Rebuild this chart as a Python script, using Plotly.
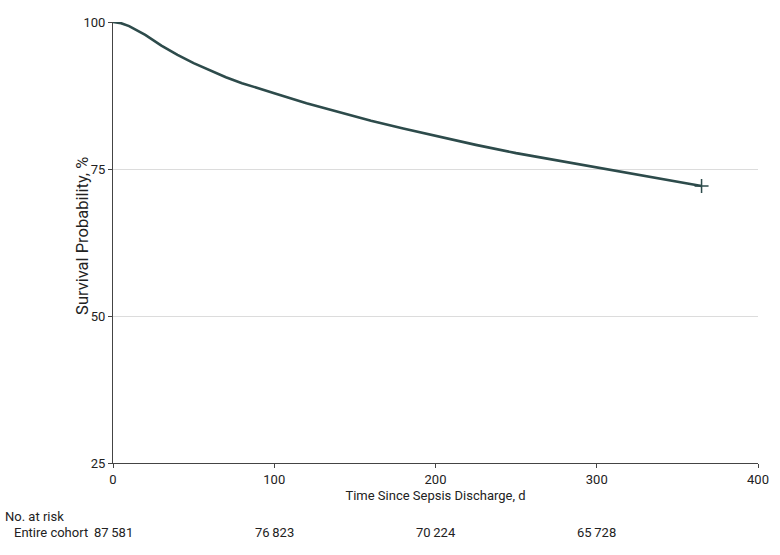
import plotly.graph_objects as go

days = [0, 5, 10, 15, 20, 30, 40, 50, 60, 70, 80, 90, 100, 120, 140, 160, 180,
        200, 225, 250, 275, 300, 325, 350, 365]
survival = [100, 99.8, 99.3, 98.6, 97.8, 96.0, 94.4, 93.0, 91.8, 90.6, 89.6, 88.7,
            87.9, 86.2, 84.7, 83.2, 81.9, 80.6, 79.1, 77.7, 76.5, 75.3, 74.0, 72.9, 72.1]
censor_day = [365]
censor_surv = [72.1]

risk_days = [0, 100, 200, 300]
risk_counts = ["87\u2009581", "76\u2009823", "70\u2009224", "65\u2009728"]

x_ticks = [0, 100, 200, 300, 400]
y_ticks = [25, 50, 75, 100]

FONT = "Roboto, sans-serif"
LINE = "#2d4b4b"
FS = 13

fig = go.Figure()
fig.add_trace(go.Scatter(x=days, y=survival, mode="lines",
                         line=dict(color=LINE, width=2.6), showlegend=False))
fig.add_trace(go.Scatter(x=censor_day, y=censor_surv, mode="markers",
                         marker=dict(symbol="cross-thin", size=10,
                                     line=dict(color=LINE, width=1.5)),
                         showlegend=False))

for d, c in zip(risk_days, risk_counts):
    fig.add_annotation(x=d, y=-0.157, xref="x", yref="paper", text=c,
                       showarrow=False, xanchor="center", yanchor="middle",
                       font=dict(size=FS, color="#222"))
fig.add_annotation(x=-110 / 645, y=-0.122, xref="paper", yref="paper",
                   text="No. at risk", showarrow=False, xanchor="left",
                   yanchor="middle", font=dict(size=FS, color="#222"))
fig.add_annotation(x=-101 / 645, y=-0.157, xref="paper", yref="paper",
                   text="Entire cohort", showarrow=False, xanchor="left",
                   yanchor="middle", font=dict(size=FS, color="#222"))
fig.add_annotation(x=-30 / 645, y=0.515, xref="paper", yref="paper",
                   text="Survival Probability, %", textangle=-90,
                   showarrow=False, xanchor="center", yanchor="middle",
                   font=dict(size=16.5, color="#222"))

fig.update_layout(
    width=780, height=555,
    margin=dict(l=113, r=22, t=22, b=92),
    paper_bgcolor="white", plot_bgcolor="white",
    font=dict(family=FONT, size=FS, color="#222"),
    xaxis=dict(range=[0, 400], tickvals=x_ticks, showgrid=False, zeroline=False,
               showline=True, linecolor="#444", linewidth=1,
               ticks="outside", ticklen=4, tickcolor="#444",
               tickfont=dict(size=FS),
               title=dict(text="Time Since Sepsis Discharge, d", standoff=5,
                          font=dict(size=FS))),
    yaxis=dict(range=[25, 100], tickvals=y_ticks, showgrid=True,
               gridcolor="#dcdcdc", gridwidth=1, zeroline=False,
               showline=True, linecolor="#444", linewidth=1,
               ticks="outside", ticklen=4, tickcolor="#444",
               tickfont=dict(size=FS)),
)

fig.write_html("out.html", config={"displayModeBar": False},
               post_script="document.body.style.margin='0';document.body.style.padding='0';")
